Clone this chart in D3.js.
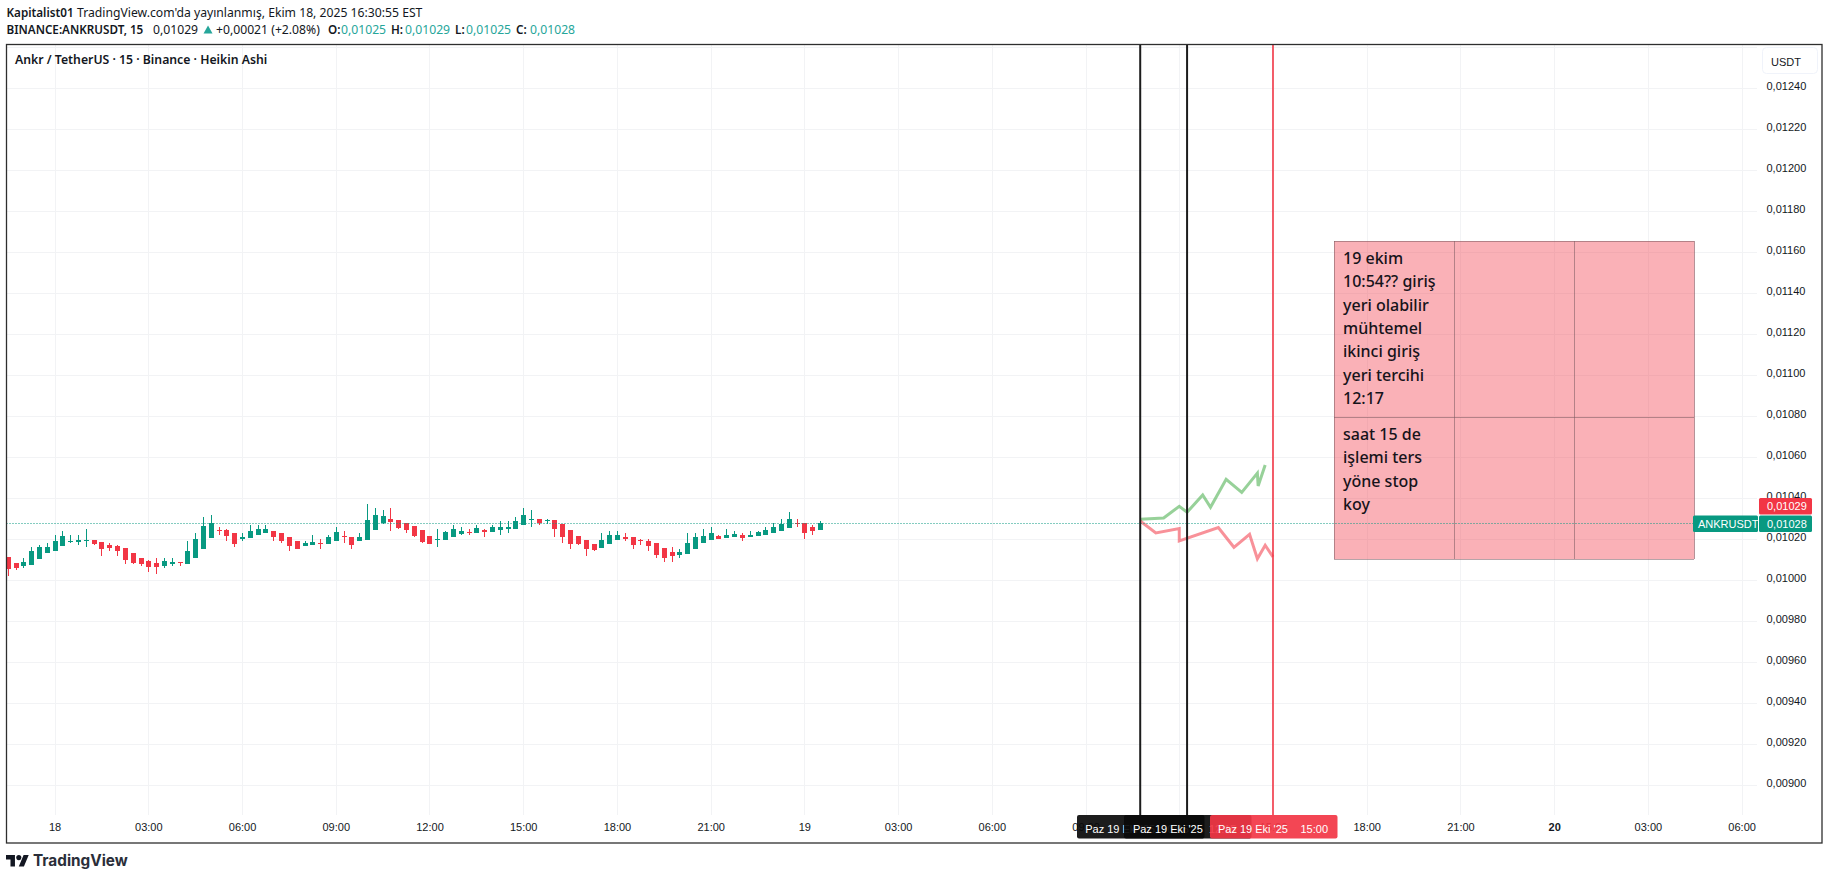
<!DOCTYPE html>
<html><head><meta charset="utf-8">
<script src="https://cdn.jsdelivr.net/npm/d3@7/dist/d3.min.js"></script>
<style>
html,body{margin:0;padding:0;background:#fff;overflow:hidden}
svg{display:block}
text{font-family:"Liberation Sans",sans-serif;fill:#131722}
.hd text{font-family:"Noto Sans",sans-serif;font-size:12.2px}
.hd text.b{font-size:11.7px}
.hd text.t{font-size:12.25px}
.axis text{font-family:"Liberation Sans",sans-serif;font-size:11px;fill:#131722}
.note{font-family:"Noto Sans",sans-serif;font-size:16px;font-weight:500;fill:#16131a}
</style></head><body>
<svg id="c" width="1829" height="880"></svg>
<script>
// Prices are in millionths of a USDT; bar indexes count 15-minute bars from 18 Oct 00:00
const firstBar=-6;
const candleOpen=[10114,10085,10070,10075,10104,10133,10143,10168,10187,10187,10192,10197,10187,10172,10168,10158,10133,10109,10094,10085,10070,10080,10089,10080,10109,10153,10207,10246,10246,10231,10202,10207,10221,10231,10241,10231,10211,10192,10168,10172,10182,10177,10192,10216,10211,10192,10197,10246,10280,10299,10294,10280,10265,10246,10216,10197,10197,10211,10226,10236,10231,10246,10236,10246,10250,10250,10270,10294,10299,10289,10294,10275,10246,10216,10197,10177,10158,10177,10197,10211,10211,10197,10192,10182,10158,10138,10124,10128,10153,10182,10197,10216,10207,10211,10221,10211,10216,10221,10231,10241,10255,10280,10280,10260,10246];
const candleHigh=[10114,10085,10109,10163,10172,10182,10221,10241,10221,10221,10250,10197,10187,10182,10172,10158,10133,10109,10099,10109,10109,10109,10089,10192,10231,10309,10319,10260,10250,10231,10231,10270,10270,10270,10241,10231,10211,10192,10192,10221,10202,10221,10260,10241,10211,10231,10372,10353,10343,10353,10294,10280,10265,10246,10216,10250,10241,10270,10260,10250,10270,10250,10270,10289,10289,10309,10353,10343,10299,10299,10294,10275,10246,10216,10197,10177,10231,10241,10241,10231,10211,10202,10202,10182,10158,10163,10153,10231,10231,10250,10260,10221,10250,10241,10231,10241,10241,10260,10280,10299,10333,10299,10280,10270,10289];
const candleLow=[10021,10050,10060,10075,10104,10133,10143,10168,10182,10172,10163,10172,10119,10143,10119,10080,10080,10070,10041,10031,10060,10070,10070,10080,10109,10153,10207,10221,10192,10163,10192,10207,10221,10231,10192,10182,10143,10153,10168,10172,10153,10177,10192,10182,10153,10192,10197,10246,10275,10241,10250,10231,10211,10182,10177,10163,10197,10211,10221,10221,10231,10211,10236,10221,10231,10250,10270,10260,10270,10275,10211,10182,10153,10172,10119,10143,10158,10177,10197,10192,10153,10172,10143,10109,10089,10089,10109,10128,10153,10182,10197,10202,10207,10211,10192,10211,10216,10221,10231,10241,10255,10260,10202,10221,10246];
const candleClose=[10055,10060,10089,10143,10163,10163,10192,10216,10192,10197,10197,10177,10153,10158,10143,10099,10085,10080,10065,10065,10094,10089,10085,10143,10202,10265,10280,10241,10216,10177,10211,10241,10250,10250,10211,10192,10168,10153,10182,10187,10177,10211,10236,10211,10172,10211,10294,10319,10314,10285,10255,10246,10216,10187,10177,10202,10236,10250,10241,10231,10255,10236,10260,10260,10260,10289,10319,10299,10280,10294,10250,10211,10177,10177,10153,10148,10197,10221,10221,10202,10172,10192,10168,10124,10109,10119,10138,10182,10211,10216,10231,10202,10221,10226,10207,10221,10236,10246,10260,10275,10299,10275,10231,10241,10280];
const upPathBars=[139,142,144,145,147,148,150,152,154,154.1,155];
const upPathPrices=[10298,10304,10361,10332,10416,10356,10493,10429,10523,10460,10562];
const downPathBars=[139,141,144,144,149,151,153,154,155,156];
const downPathPrices=[10289,10231,10252,10192,10257,10161,10224,10105,10171,10114];
const priceTicks=[0.0124,0.0122,0.012,0.0118,0.0116,0.0114,0.0112,0.011,0.0108,0.0106,0.0104,0.0102,0.01,0.0098,0.0096,0.0094,0.0092,0.009];
const priceGrid=[0.0126,...priceTicks];
const timeTickBars=[0,12,24,36,48,60,72,84,96,108,120,132,144,156,168,180,192,204,216];
const timeTickLabels=["18","03:00","06:00","09:00","12:00","15:00","18:00","21:00","19","03:00","06:00","09:00","12:00","15:00","18:00","21:00","20","03:00","06:00"];
const boldTimeLabels=["20"];
const blackLineBars=[139,145];
const blackLineLabels=["Paz 19 Eki '25  10:45","Paz 19 Eki '25  12:15"];
const redLineBar=156;
const redDate="Paz 19 Eki '25",redTime="15:00";
const lastClose=0.01028,lastPrice=0.01029;
const noteTop=["19 ekim","10:54?? giriş","yeri olabilir","mühtemel","ikinci giriş","yeri tercihi","12:17"];
const noteBottom=["saat 15 de","işlemi ters","yöne stop","koy"];

const GREEN="#089981",RED="#f23645";
const L=6.5,T=44.5,R=1822,B=843,PR=1757,PB=815;
const svg=d3.select("#c");
const x=d3.scaleLinear().domain([0,216]).range([54.6,1741.6]);
const y=d3.scaleLinear().domain([0.0124,0.009]).range([88.3,785.3]);
const micro=v=>v/1e6;
const fmt=d3.formatLocale({decimal:",",thousands:".",grouping:[3],currency:["$",""]}).format(".5f");

// grid
const grid=svg.append("g").attr("shape-rendering","crispEdges").attr("stroke","#f2f3f5");
grid.selectAll(".h").data(priceGrid).join("line").attr("x1",L).attr("x2",PR).attr("y1",d=>Math.round(y(d))).attr("y2",d=>Math.round(y(d)));
grid.selectAll(".v").data(timeTickBars).join("line").attr("y1",T).attr("y2",PB).attr("x1",d=>Math.round(x(d))).attr("x2",d=>Math.round(x(d)));

// axes
const ax=svg.append("g").attr("class","axis");
const yAxis=d3.axisRight(y).tickValues(priceTicks).tickFormat(fmt).tickSize(0).tickPadding(0);
ax.append("g").attr("transform","translate(1766.5,-2)").call(yAxis).call(g=>g.select(".domain").remove());
const xAxis=d3.axisBottom(x).tickValues(timeTickBars).tickFormat((d,i)=>timeTickLabels[i]).tickSize(0).tickPadding(0);
ax.append("g").attr("transform","translate(0,823)").call(xAxis).call(g=>g.select(".domain").remove())
  .call(g=>g.selectAll("text").attr("font-weight",function(){return boldTimeLabels.includes(this.textContent)?"700":"400"}));

// candles
const bars=candleOpen.map((o,i)=>({i:i+firstBar,o:micro(o),h:micro(candleHigh[i]),l:micro(candleLow[i]),c:micro(candleClose[i])}));
const cg=svg.append("g").attr("shape-rendering","crispEdges");
const col=d=>d.c>=d.o?GREEN:RED;
cg.selectAll(".w").data(bars).join("rect").attr("x",d=>Math.round(x(d.i))).attr("width",1)
  .attr("y",d=>y(d.h)).attr("height",d=>y(d.l)-y(d.h)).attr("fill",col);
cg.selectAll(".b").data(bars).join("rect").attr("x",d=>Math.round(x(d.i))-2).attr("width",5)
  .attr("y",d=>y(Math.max(d.o,d.c))).attr("height",d=>Math.max(1,y(Math.min(d.o,d.c))-y(Math.max(d.o,d.c)))).attr("fill",col);

// scenario paths
const line=d3.line().x(d=>x(d[0])).y(d=>y(d[1]));
svg.append("path").attr("d",line(upPathBars.map((b,i)=>[b,micro(upPathPrices[i])]))).attr("fill","none").attr("stroke","#4caf50").attr("stroke-opacity",.58).attr("stroke-width",3);
svg.append("path").attr("d",line(downPathBars.map((b,i)=>[b,micro(downPathPrices[i])]))).attr("fill","none").attr("stroke",RED).attr("stroke-opacity",.55).attr("stroke-width",3);

// table annotation
const tb=svg.append("g");
tb.append("rect").attr("x",1334).attr("y",241).attr("width",360.5).attr("height",318).attr("fill",RED).attr("fill-opacity",.39);
const tl=tb.append("g").attr("shape-rendering","crispEdges").attr("stroke","#7a5a60").attr("stroke-opacity",.55);
[1334,1454.5,1574.5,1694].forEach(v=>tl.append("line").attr("x1",v).attr("x2",v).attr("y1",241).attr("y2",559));
[241,417,559].forEach(v=>tl.append("line").attr("x1",1334).attr("x2",1694).attr("y1",v).attr("y2",v));
noteTop.forEach((t,i)=>tb.append("text").attr("class","note").attr("x",1343).attr("y",263.8+i*23.4).text(t));
noteBottom.forEach((t,i)=>tb.append("text").attr("class","note").attr("x",1343).attr("y",440+i*23.4).text(t));

// last price dotted line
svg.append("line").attr("x1",L).attr("x2",1693).attr("y1",Math.round(y(lastClose))+.5).attr("y2",Math.round(y(lastClose))+.5)
  .attr("stroke",GREEN).attr("stroke-dasharray","1 2").attr("stroke-width",1);

// vertical lines
blackLineBars.forEach(b=>svg.append("line").attr("x1",x(b)).attr("x2",x(b)).attr("y1",T).attr("y2",PB).attr("stroke","#1c1c1c").attr("stroke-width",2));
svg.append("line").attr("x1",x(redLineBar)).attr("x2",x(redLineBar)).attr("y1",T).attr("y2",PB).attr("stroke",RED).attr("stroke-width",1.6);

// time pills
const pill=(cx,fill,op)=>svg.append("rect").attr("x",Math.round(cx-63.2)).attr("y",815).attr("width",127.5).attr("height",23.5).attr("rx",2).attr("fill",fill).attr("fill-opacity",op);
const pt=(px,t)=>svg.append("text").attr("x",px).attr("y",832.5).attr("font-size",11).style("white-space","pre").style("fill","#fff").text(t);
pill(x(blackLineBars[0]),"#0a0a0a",.92); pt(x(blackLineBars[0])-55,blackLineLabels[0]);
pill(x(blackLineBars[1]),"#0a0a0a",.92); pt(x(blackLineBars[1])-54.2,blackLineLabels[1]);
pill(x(redLineBar),RED,.92);
pt(x(redLineBar)-55,redDate); pt(x(redLineBar)+27.5,redTime);

// price labels
const lab=(px,py,w,fill,t,tx)=>{svg.append("rect").attr("x",px).attr("y",py).attr("width",w).attr("height",16.5).attr("rx",1.5).attr("fill",fill);
  svg.append("text").attr("x",tx).attr("y",py+12.3).attr("font-size",11).style("fill","#fff").text(t);};
lab(1759,498,53,RED,fmt(lastPrice),1767);
lab(1759,515.5,53,GREEN,fmt(lastClose),1767);
lab(1693,515.5,65,GREEN,"ANKRUSDT",1698);

// frame
svg.append("rect").attr("x",L).attr("y",T).attr("width",R-L).attr("height",B-T).attr("fill","none").attr("stroke","#2e2e2e").attr("stroke-width",1.3);

// USDT button
svg.append("rect").attr("x",1762.5).attr("y",47.5).attr("width",55).attr("height",26).attr("rx",4).attr("fill","#fff").attr("stroke","#f0f3fa");
svg.append("text").attr("x",1771).attr("y",66).attr("font-size",11).text("USDT");

// headers
const hd=svg.append("g").attr("class","hd");
const ht=(px,py,t,w,c,k)=>hd.append("text").attr("class",k||(w?"b":null)).attr("x",px).attr("y",py).attr("font-weight",w||400).style("fill",c||"#131722").text(t);
ht(6.5,17,"Kapitalist01",600);
ht(77,17,"TradingView.com'da yayınlanmış, Ekim 18, 2025 16:30:55 EST");
ht(6.5,34,"BINANCE:ANKRUSDT, 15",600);
ht(153,34,"0,01029");
hd.append("path").attr("d","M208 25.5L212.5 33.5H203.5Z").attr("fill","#26a69a");
ht(216,34,"+0,00021 (+2.08%)");
const TEAL="#26a69a";
[["O:",328,"0,01025",341],["H:",391,"0,01029",405],["L:",455,"0,01025",466],["C:",516,"0,01028",530]].forEach(a=>{ht(a[1],34,a[0],600);ht(a[3],34,a[2],null,TEAL);});
ht(15,64,"Ankr / TetherUS · 15 · Binance · Heikin Ashi",600,null,"t");

// logo
const logo=svg.append("g").attr("transform","translate(6,852.5) scale(.64)");
logo.append("path").attr("d","M14 22H7V11H0V4h14v18zM28 22h-8l7.5-18h8L28 22z").attr("fill","#131722");
logo.append("circle").attr("cx",20).attr("cy",8).attr("r",4).attr("fill","#131722");
svg.append("text").attr("x",33).attr("y",866).style("font-family","Inter").attr("font-size",15.3).attr("font-weight",700).style("fill","#2a2e39").text("TradingView");
</script>
</body></html>
